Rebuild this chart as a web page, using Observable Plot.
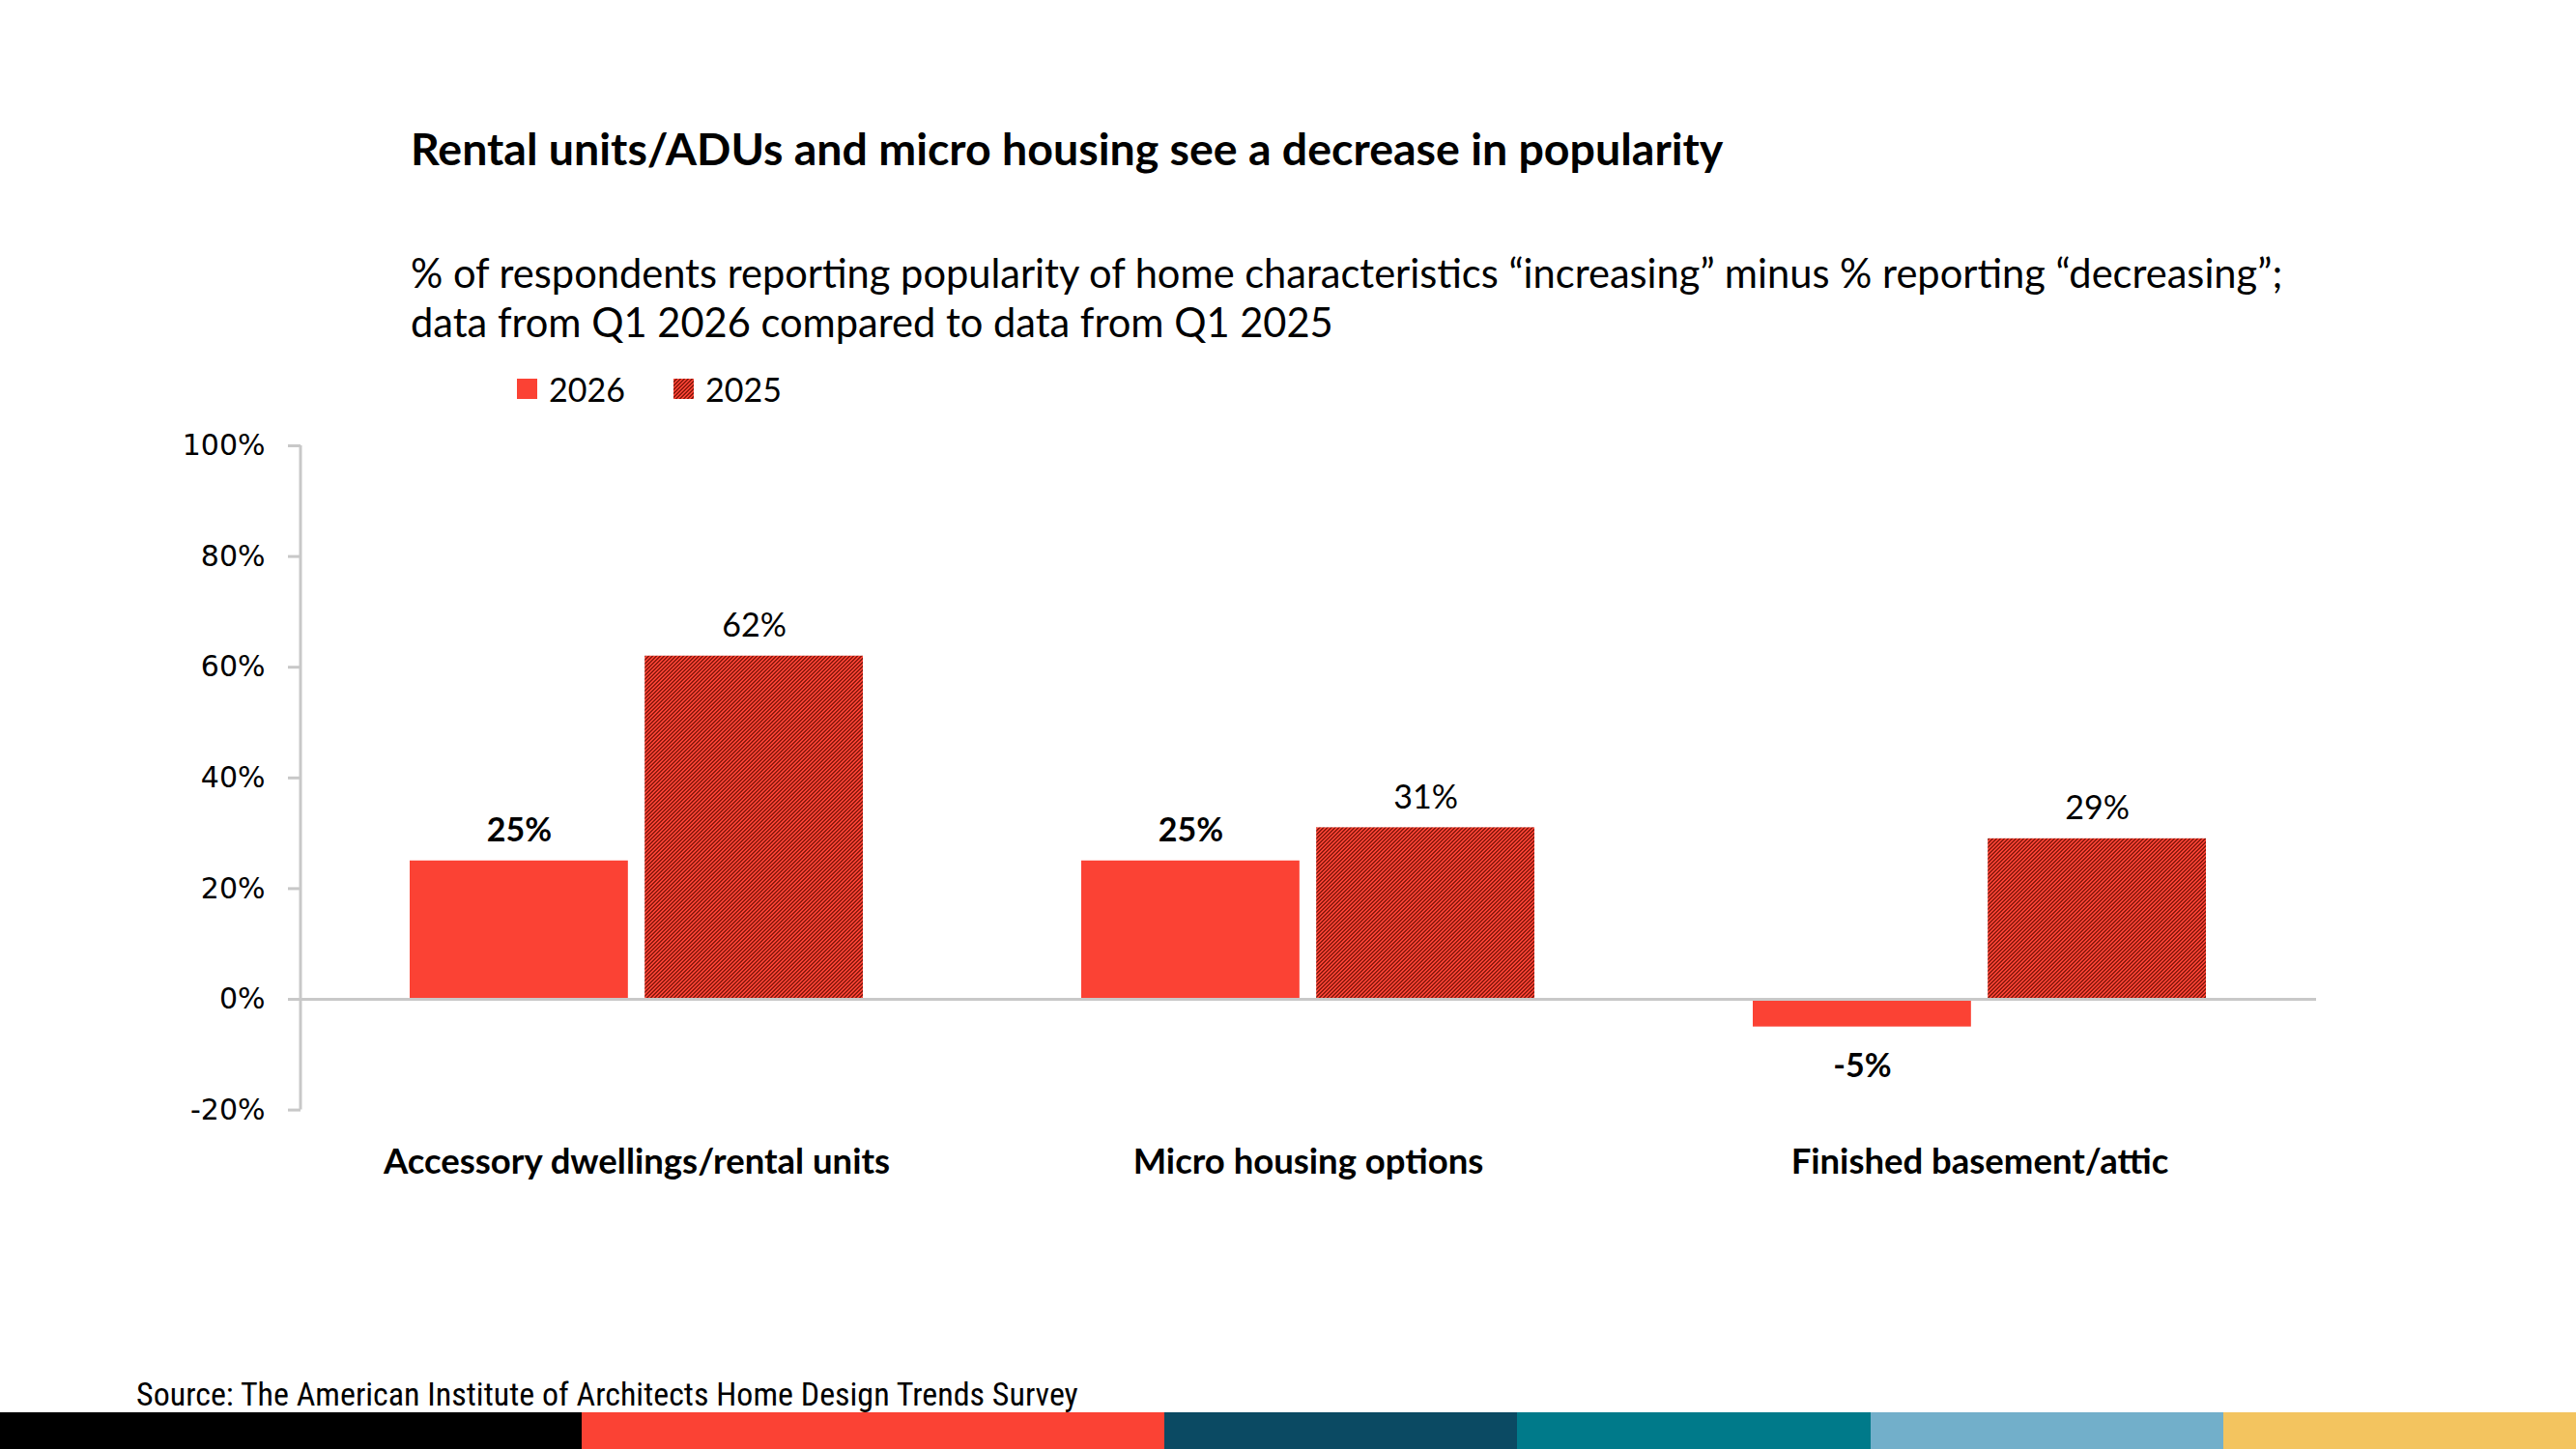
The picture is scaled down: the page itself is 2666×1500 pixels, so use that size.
<!DOCTYPE html>
<html>
<head>
<meta charset="utf-8">
<script src="https://cdn.jsdelivr.net/npm/d3@7"></script>
<script src="https://cdn.jsdelivr.net/npm/@observablehq/plot@0.6"></script>
<style>
  html, body { margin: 0; padding: 0; background: #fff; }
  #page { position: relative; width: 2666px; height: 1500px; overflow: hidden; background: #fff; }
  #header { position: absolute; left: 0; top: 0; }
  #chart { position: absolute; left: 0; top: 430px; }
  #footer { position: absolute; left: 0; top: 1400px; }
  #strip { position: absolute; left: 0; top: 1462px; width: 2666px; height: 38px; display: flex; }
  #strip div { height: 100%; }
</style>
</head>
<body>
<div id="page">
  <svg id="header" width="2666" height="430" xmlns="http://www.w3.org/2000/svg">
    <defs>
      <pattern id="hatchLegend" patternUnits="userSpaceOnUse" width="4" height="4">
        <rect width="4" height="4" fill="#FB4234"></rect>
        <rect x="3" y="0" width="1" height="1" fill="#8E1A0E"></rect>
        <rect x="0" y="0" width="1" height="1" fill="#8E1A0E"></rect>
        <rect x="2" y="1" width="2" height="1" fill="#8E1A0E"></rect>
        <rect x="1" y="2" width="2" height="1" fill="#8E1A0E"></rect>
        <rect x="0" y="3" width="2" height="1" fill="#8E1A0E"></rect>
      </pattern>
    </defs>
    <text x="425" y="171" font-family="Lato, sans-serif" font-weight="bold" font-size="46.5" fill="#000">Rental units/ADUs and micro housing see a decrease in popularity</text>
    <text x="425" y="298" font-family="Lato, sans-serif" font-size="41.6" fill="#000">% of respondents reporting popularity of home characteristics “increasing” minus % reporting “decreasing”;</text>
    <text x="425" y="349" font-family="Lato, sans-serif" font-size="41.6" fill="#000">data from Q1 2026 compared to data from Q1 2025</text>
    <g id="legend" font-family="Lato, sans-serif" font-size="34" fill="#000"></g>
  </svg>
  <div id="chart"></div>
  <svg id="footer" width="2666" height="62" xmlns="http://www.w3.org/2000/svg">
    <text x="141" y="55" font-family="'Liberation Sans Narrow', 'Roboto Condensed', Lato, sans-serif" font-size="34" fill="#000">Source: The American Institute of Architects Home Design Trends Survey</text>
  </svg>
  <div id="strip"></div>
</div>
<script>
// Survey categories and net popularity (% increasing minus % decreasing)
const categories = ["Accessory dwellings/rental units", "Micro housing options", "Finished basement/attic"];
const years = ["2026", "2025"];
const values2026 = [25, 25, -5];
const values2025 = [62, 31, 29];
const yTicks = [-20, 0, 20, 40, 60, 80, 100];

const RED = "#FB4234";
const DARK = "#8E1A0E";
const AXIS = "#C8C8C8";

const rows2026 = categories.map((category, i) => ({category, year: years[0], value: values2026[i]}));
const rows2025 = categories.map((category, i) => ({category, year: years[1], value: values2025[i]}));

// Legend
const legend = d3.select("#legend");
[[years[0], RED, 535, 568], [years[1], "url(#hatchLegend)", 697, 730]].forEach(([label, fill, sx, tx]) => {
  legend.append("rect").attr("x", sx).attr("y", 392).attr("width", 21).attr("height", 21).attr("fill", fill);
  legend.append("text").attr("x", tx).attr("y", 416).text(label);
});

// Layout of the chart frame
const width = 2666, height = 830;
const marginLeft = 311, marginRight = 269, marginTop = 31, marginBottom = 111.4;
const paddingInner = 0.325, paddingOuter = 0.1625;
const barGap = 17;
const step = (width - marginLeft - marginRight) / (categories.length - paddingInner + 2 * paddingOuter);
const groupWidth = step * (1 - paddingInner);
const barWidth = (groupWidth - barGap) / 2;
const shift = (barWidth + barGap) / 2;

// Hatched fill definition and the vertical axis line, drawn from the y scale
function defsMark() {
  const svg = d3.create("svg:g");
  const pat = svg.append("defs").append("pattern")
    .attr("id", "hatch2025").attr("patternUnits", "userSpaceOnUse")
    .attr("width", 4).attr("height", 4);
  pat.append("rect").attr("width", 4).attr("height", 4).attr("fill", RED);
  [[3, 0, 1], [0, 0, 1], [2, 1, 2], [1, 2, 2], [0, 3, 2]].forEach(([x, y, w]) =>
    pat.append("rect").attr("x", x).attr("y", y).attr("width", w).attr("height", 1).attr("fill", DARK));
  return svg.node();
}
function yAxisLine(index, scales, values, dims) {
  const [lo, hi] = d3.extent(yTicks);
  return d3.create("svg:line")
    .attr("x1", dims.marginLeft).attr("x2", dims.marginLeft)
    .attr("y1", scales.y(lo)).attr("y2", scales.y(hi))
    .attr("stroke", AXIS).attr("stroke-width", 3).node();
}

const pct = v => `${v}%`;

const chart = Plot.plot({
  width, height, marginLeft, marginRight, marginTop, marginBottom,
  style: {fontFamily: "Lato, sans-serif", color: "#000", background: "transparent", overflow: "visible"},
  x: {domain: categories, paddingInner, paddingOuter, align: 0.5, axis: null},
  y: {domain: d3.extent(yTicks), axis: null},
  marks: [
    defsMark,
    Plot.barY(rows2026, {x: "category", y: "value", fill: RED, insetRight: groupWidth - barWidth}),
    Plot.barY(rows2025, {x: "category", y: "value", fill: "url(#hatch2025)", insetLeft: groupWidth - barWidth}),
    Plot.ruleY([0], {stroke: AXIS, strokeWidth: 3}),
    yAxisLine,
    Plot.axisY({ticks: yTicks, tickFormat: pct, tickSize: 13, tickPadding: 24, stroke: AXIS, strokeWidth: 3,
      fontSize: 30, fontFamily: "'DejaVu Sans', sans-serif", fill: "#000", label: null}),
    Plot.axisX({tickSize: 0, tickPadding: 40, fontSize: 36.5, fontWeight: "bold", fill: "#000", label: null}),
    Plot.text(rows2026, {filter: d => d.value >= 0, x: "category", y: "value", text: d => pct(d.value),
      dx: -shift, dy: -20, lineAnchor: "bottom", fontSize: 34, fontWeight: "bold", fill: "#000"}),
    Plot.text(rows2026, {filter: d => d.value < 0, x: "category", y: "value", text: d => pct(d.value),
      dx: -shift, dy: 52, lineAnchor: "bottom", fontSize: 34, fontWeight: "bold", fill: "#000"}),
    Plot.text(rows2025, {filter: d => d.value >= 0, x: "category", y: "value", text: d => pct(d.value),
      dx: shift, dy: -20, lineAnchor: "bottom", fontSize: 34, fill: "#000"})
  ]
});
document.getElementById("chart").appendChild(chart);

// Colour band along the bottom edge
const stripColors = ["#000000", "#FB4234", "#0B4A63", "#007A8A", "#72AFCA", "#F3C45F"];
const stripWidths = [602, 603, 365, 366, 365, 365];
const strip = d3.select("#strip");
stripColors.forEach((c, i) => strip.append("div").style("width", stripWidths[i] + "px").style("background", c));
</script>
</body>
</html>
